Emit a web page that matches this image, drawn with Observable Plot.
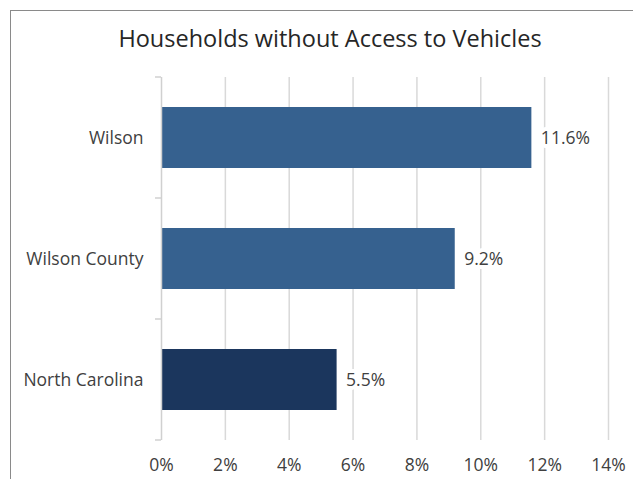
<!DOCTYPE html>
<html>
<head>
<meta charset="utf-8">
<script src="https://cdn.jsdelivr.net/npm/d3@7"></script>
<script src="https://cdn.jsdelivr.net/npm/@observablehq/plot@0.6"></script>
<style>
  html, body { margin: 0; padding: 0; background: #fff; }
  #wrap { position: relative; width: 633px; height: 479px; overflow: hidden; font-family: "Open Sans", sans-serif; }
  #frame { position: absolute; left: 10px; top: 10px; width: 700px; height: 600px; border-left: 1px solid #8a8a8a; border-top: 1px solid #8a8a8a; }
  #title { position: absolute; left: 0; width: 660px; top: 22px; text-align: center; font-size: 23.5px; color: #262626; }
  #chart { position: absolute; left: 0; top: 0; }
</style>
</head>
<body>
<div id="wrap">
  <div id="frame"></div>
  <div id="chart"></div>
  <div id="title">Households without Access to Vehicles</div>
</div>
<script>
const categories = ["Wilson", "Wilson County", "North Carolina"];
const values = [0.116, 0.092, 0.055];
const labels = ["11.6%", "9.2%", "5.5%"];
const colors = ["#36618f", "#36618f", "#1b365d"];
const xTicks = [0, 0.02, 0.04, 0.06, 0.08, 0.10, 0.12, 0.14];

const data = categories.map((c, i) => ({ name: c, value: values[i], label: labels[i], color: colors[i] }));

const FS = 17.5;
const plot = Plot.plot({
  width: 633,
  height: 479,
  marginLeft: 161,
  marginRight: 25,
  marginTop: 77,
  marginBottom: 39,
  style: { fontFamily: "Open Sans, sans-serif", fontSize: FS + "px", color: "#404040", background: "transparent" },
  x: { domain: [0, 0.14], ticks: xTicks, tickFormat: d3.format(".0%"), label: null },
  y: { domain: categories, paddingInner: 0.5, paddingOuter: 0.25, label: null },
  marks: [
    Plot.ruleX(xTicks.slice(1), { stroke: "#d9d9d9", strokeWidth: 1.5 }),
    Plot.barX(data, { x: "value", y: "name", fill: "color" }),
    Plot.ruleX([0], { stroke: "#d0d0d0", strokeWidth: 1.5 }),
    Plot.text(data, { x: "value", y: "name", text: "label", dx: 9, textAnchor: "start", fill: "white", stroke: "white", strokeWidth: 8, fontSize: FS }),
    Plot.text(data, { x: "value", y: "name", text: "label", dx: 9, textAnchor: "start", fill: "#404040", fontSize: FS }),
    Plot.axisX({ ticks: xTicks, tickFormat: d3.format(".0%"), tickSize: 0, tickPadding: 18, fontSize: FS, fill: "#404040", label: null }),
    Plot.axisY({ tickSize: 0, tickPadding: 18, fontSize: FS, fill: "#404040", label: null })
  ]
});

document.getElementById("chart").appendChild(plot);

// category boundary ticks from the y band scale
const ys = plot.scale("y");
const xs = plot.scale("x");
const x0 = xs.apply(0);
const step = ys.step;
const svg = d3.select(plot);
const bounds = categories.map(c => ys.apply(c) - (step - ys.bandwidth) / 2);
bounds.push(bounds[bounds.length - 1] + step);
svg.append("g").selectAll("line").data(bounds).join("line")
  .attr("x1", x0 - 6).attr("x2", x0)
  .attr("y1", d => d).attr("y2", d => d)
  .attr("stroke", "#d0d0d0").attr("stroke-width", 1.5);
</script>
</body>
</html>
